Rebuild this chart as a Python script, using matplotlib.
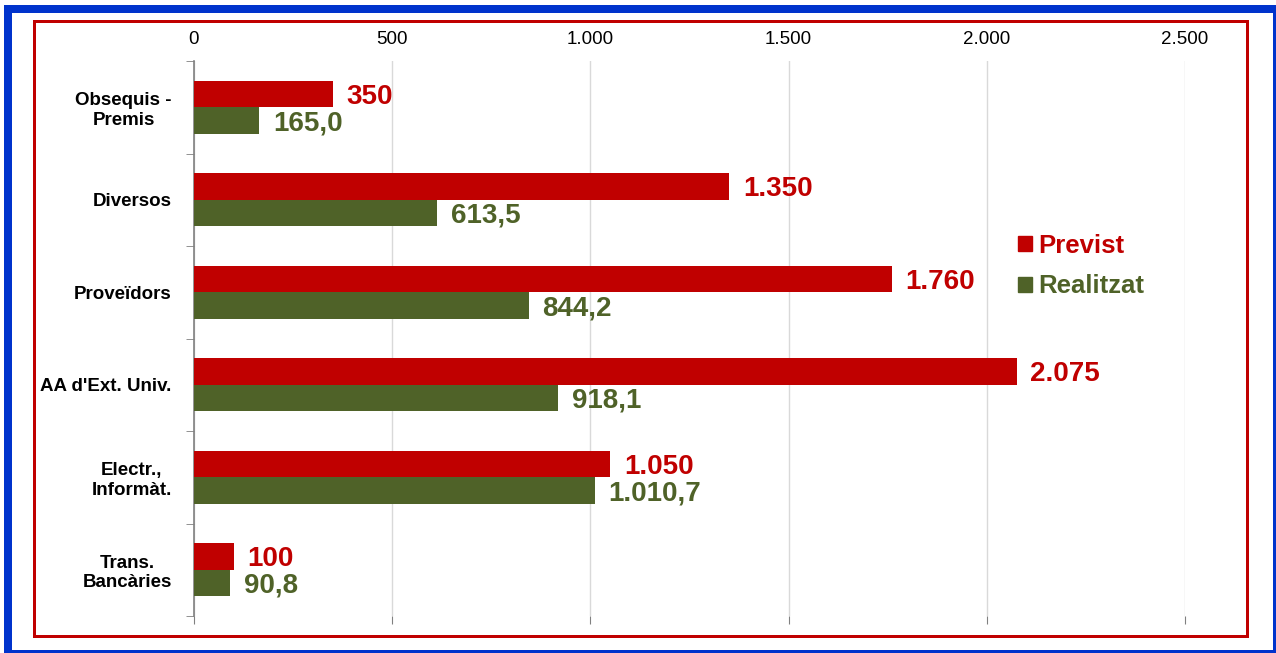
import numpy as np
import matplotlib
matplotlib.use("Agg")
import matplotlib.pyplot as plt
from matplotlib.patches import Rectangle, Patch

plt.rcParams['font.family'] = ['Liberation Sans', 'DejaVu Sans']

# ---- data ----
categories = ["Obsequis -\nPremis", "Diversos", "Proveïdors", "AA d'Ext. Univ.",
              "Electr.,\nInformàt.", "Trans.\nBancàries"]
previst = [350, 1350, 1760, 2075, 1050, 100]
realitzat = [165.0, 613.5, 844.2, 918.1, 1010.7, 90.8]
series_names = ["Previst", "Realitzat"]
xticks = [0, 500, 1000, 1500, 2000, 2500]

RED = "#C00000"
GREEN = "#4F6228"
BLUE = "#0033CC"


def fmt_int(v):
    return f"{v:,.0f}".replace(",", ".")


def fmt_dec(v):
    s = f"{v:,.1f}"
    return s.replace(",", "X").replace(".", ",").replace("X", ".")


W, H = 1276, 653
fig = plt.figure(figsize=(W / 100, H / 100), dpi=100)
ax = fig.add_axes([194 / W, 1 - 616 / H, (1185 - 194) / W, (616 - 61) / H])

n = len(categories)
y = np.arange(n)
bh = 0.285
ax.barh(y - bh / 2, previst, height=bh, color=RED, label=series_names[0], zorder=3)
ax.barh(y + bh / 2, realitzat, height=bh, color=GREEN, label=series_names[1], zorder=3)

# etiquetes de valor
for yi, v in zip(y, previst):
    ax.text(v + 35, yi - bh / 2 + 0.03, fmt_int(v), color=RED, fontsize=20,
            fontweight='bold', va='center', ha='left')
for yi, v in zip(y, realitzat):
    ax.text(v + 35, yi + bh / 2 + 0.03, fmt_dec(v), color=GREEN, fontsize=20,
            fontweight='bold', va='center', ha='left')

ax.set_ylim(n - 0.5, -0.5)
ax.set_xlim(0, 2500)
ax.set_xticks(xticks)
ax.set_xticklabels([fmt_int(t) for t in xticks])
ax.tick_params(axis='x', top=False, labeltop=True, bottom=True, labelbottom=False,
               length=6, color='#808080', labelsize=13.5, pad=3, direction='out')

ax.set_yticks(y)
ax.set_yticklabels(categories, fontweight='bold', fontsize=13.5, multialignment='center')
ax.set_yticks(np.arange(n + 1) - 0.5, minor=True)
ax.tick_params(axis='y', which='major', length=0, pad=16)
ax.tick_params(axis='y', which='minor', length=6, color='#808080')

ax.grid(axis='x', color='#D9D9D9', linewidth=1, zorder=0)
for s in ['top', 'right', 'bottom']:
    ax.spines[s].set_visible(False)
ax.spines['left'].set_color('#808080')
ax.spines['left'].set_linewidth(1.2)

handles = [Patch(color=RED), Patch(color=GREEN)]
leg = ax.legend(handles, series_names, loc='center left',
                bbox_to_anchor=(1018 / W, 1 - 266 / H), bbox_transform=fig.transFigure,
                frameon=False, prop={'weight': 'bold', 'size': 18.5},
                handlelength=0.55, handleheight=0.55, handletextpad=0.25,
                labelspacing=0.65, borderaxespad=0, borderpad=0)
for txt, c in zip(leg.get_texts(), [RED, GREEN]):
    txt.set_color(c)

# marcs
def px_rect(x0, y0, x1, y1, color, lw_px):
    fig.patches.append(Rectangle((x0 / W, 1 - y1 / H), (x1 - x0) / W, (y1 - y0) / H,
                                 transform=fig.transFigure, fill=False,
                                 edgecolor=color, linewidth=lw_px * 0.72))

px_rect(8, 9, 1277, 654, BLUE, 8)
px_rect(33.5, 20.5, 1246.5, 635.5, RED, 3)

fig.savefig("out.png", dpi=100)
